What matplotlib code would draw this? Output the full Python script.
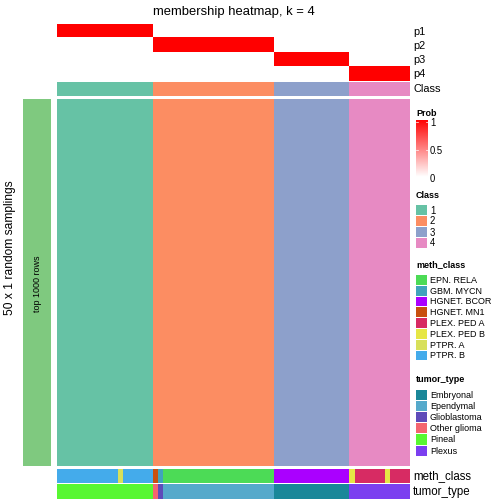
import matplotlib
matplotlib.use("Agg")
import matplotlib.pyplot as plt
from matplotlib.colors import ListedColormap, LinearSegmentedColormap
from matplotlib.patches import Rectangle
import numpy as np

plt.rcParams['font.family'] = ['Liberation Sans', 'DejaVu Sans']

# Daten: Klassen je Probe (Laufl√§ngen), Annotationen
class_labels = ["1", "2", "3", "4"]
class_colors = ["#66C2A5", "#FC8D62", "#8DA0CB", "#E78AC3"]
class_runs = [(1, 19), (2, 24), (3, 15), (4, 12)]

meth_levels = ["EPN. RELA", "GBM. MYCN", "HGNET. BCOR", "HGNET. MN1",
               "PLEX. PED A", "PLEX. PED B", "PTPR. A", "PTPR. B"]
meth_colors = ["#4CDB56", "#41A3BC", "#AA00FF", "#C8500F",
               "#D72B63", "#E6E645", "#D8E05A", "#44ABEB"]
meth_runs = [("PTPR. B", 12), ("PTPR. A", 1), ("PTPR. B", 6),
             ("HGNET. MN1", 1), ("GBM. MYCN", 1), ("EPN. RELA", 22),
             ("HGNET. BCOR", 15),
             ("PLEX. PED B", 1), ("PLEX. PED A", 6), ("PLEX. PED B", 1), ("PLEX. PED A", 4)]

tumor_levels = ["Embryonal", "Ependymal", "Glioblastoma", "Other glioma", "Pineal", "Plexus"]
tumor_colors = ["#1A8799", "#55A9CB", "#5E4BB9", "#F46570", "#58F732", "#7B3FF0"]
tumor_runs = [("Pineal", 19), ("Other glioma", 1), ("Glioblastoma", 1), ("Ependymal", 22),
              ("Embryonal", 15), ("Plexus", 12)]

n_samplings = 50

cls = np.concatenate([[c] * n for c, n in class_runs])
meth = np.concatenate([[meth_levels.index(m)] * n for m, n in meth_runs])
tumor = np.concatenate([[tumor_levels.index(t)] * n for t, n in tumor_runs])
prob = np.array([(cls == k).astype(float) for k in range(1, 5)])  # 4 x n
consensus = np.tile(cls, (n_samplings, 1))

W = H = 504
fig = plt.figure(figsize=(7, 7), dpi=72)

def ax_px(x0, y0, x1, y1):
    a = fig.add_axes([x0 / W, 1 - y1 / H, (x1 - x0) / W, (y1 - y0) / H])
    a.set_axis_off()
    return a

X0, X1 = 57, 410
prob_cmap = LinearSegmentedColormap.from_list("prob", ["#FFFFFF", "#FF0000"])
class_cmap = ListedColormap(class_colors)

a = ax_px(X0, 24, X1, 81)
a.imshow(prob, aspect="auto", cmap=prob_cmap, vmin=0, vmax=1, interpolation="nearest")
a = ax_px(X0, 82, X1, 96)
a.imshow(cls[None, :] - 1, aspect="auto", cmap=class_cmap, vmin=0, vmax=3, interpolation="nearest")
a = ax_px(X0, 99, X1, 466)
a.imshow(consensus - 1, aspect="auto", cmap=class_cmap, vmin=0, vmax=3, interpolation="nearest")
a = ax_px(X0, 469, X1, 483)
a.imshow(meth[None, :], aspect="auto", cmap=ListedColormap(meth_colors),
         vmin=0, vmax=len(meth_levels) - 1, interpolation="nearest")
a = ax_px(X0, 484, X1, 499)
a.imshow(tumor[None, :], aspect="auto", cmap=ListedColormap(tumor_colors),
         vmin=0, vmax=len(tumor_levels) - 1, interpolation="nearest")

# Overlay in Pixelkoordinaten
ov = fig.add_axes([0, 0, 1, 1], zorder=5)
ov.set_xlim(0, W)
ov.set_ylim(H, 0)
ov.set_axis_off()
ov.patch.set_alpha(0)

ov.add_patch(Rectangle((23, 99), 28, 367, color="#7FC97F", lw=0))
ov.text(37, 284, "top 1000 rows", rotation=90, ha="center", va="center", fontsize=9)
ov.text(10, 248, "50 x 1 random samplings", rotation=90, ha="center", va="center", fontsize=12)
ov.text((X0 + X1) / 2, 12, "membership heatmap, k = 4", ha="center", va="center", fontsize=13)

for i, lab in enumerate(["p1", "p2", "p3", "p4"]):
    ov.text(413, 32 + 14 * i, lab, ha="left", va="center", fontsize=11)
ov.text(413, 89, "Class", ha="left", va="center", fontsize=11)
ov.text(413, 476, "meth_class", ha="left", va="center", fontsize=11.5)
ov.text(413, 492, "tumor_type", ha="left", va="center", fontsize=11.5)

# Legende Prob
ov.text(416, 113, "Prob", ha="left", va="center", fontsize=9, fontweight="bold")
cb = ax_px(416, 120, 428, 177)
cb.imshow(np.linspace(1, 0, 100)[:, None], aspect="auto", cmap=prob_cmap, vmin=0, vmax=1)
for v, y in [(1, 122), (0.5, 150), (0, 178)]:
    ov.text(430, y + 1, f"{v:g}", ha="left", va="center", fontsize=9.5)
    if v > 0:
        ov.plot([416, 418], [y, y], color="white", lw=0.7)
        ov.plot([426, 428], [y, y], color="white", lw=0.7)

def legend_block(title, ty, labels, colors, y0, step, fs=9.5):
    ov.text(416, ty, title, ha="left", va="center", fontsize=9, fontweight="bold")
    for i, (lab, col) in enumerate(zip(labels, colors)):
        y = y0 + step * i
        ov.add_patch(Rectangle((416, y), 11, step - 1, color=col, lw=0))
        ov.text(430, y + step / 2, lab, ha="left", va="center", fontsize=fs)

legend_block("Class", 196, class_labels, class_colors, 205, 11)
legend_block("meth_class", 265, meth_levels, meth_colors, 275, 10.8, fs=9)
legend_block("tumor_type", 380, tumor_levels, tumor_colors, 390, 11.1, fs=9)

fig.savefig("out.png", dpi=72)
